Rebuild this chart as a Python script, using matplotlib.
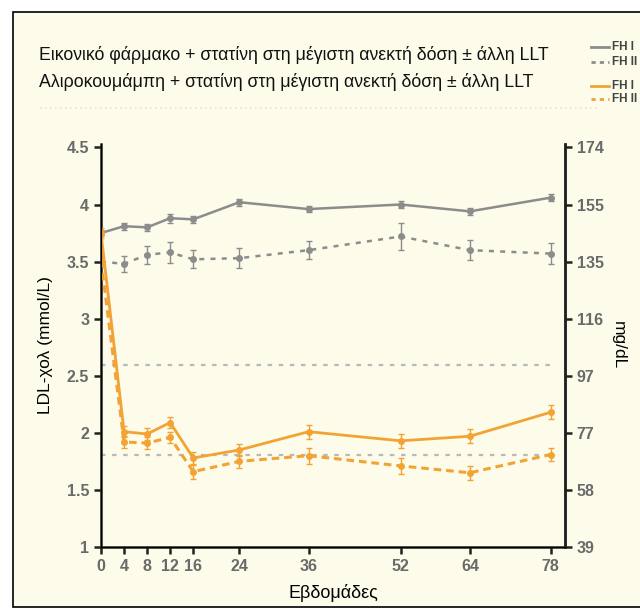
import numpy as np
import matplotlib.pyplot as plt
from matplotlib.patches import Rectangle
from matplotlib.lines import Line2D

plt.rcParams['font.family'] = ['Liberation Sans', 'DejaVu Sans']

# Data (LDL-C, mmol/L)
weeks = [0, 4, 8, 12, 16, 24, 36, 52, 64, 78]
placebo_fh1 = [3.75, 3.81, 3.80, 3.88, 3.87, 4.02, 3.96, 4.00, 3.94, 4.06]
placebo_fh1_err = [0.03, 0.03, 0.03, 0.04, 0.03, 0.03, 0.03, 0.03, 0.03, 0.03]
placebo_fh2 = [3.50, 3.48, 3.56, 3.58, 3.52, 3.53, 3.60, 3.72, 3.60, 3.57]
placebo_fh2_err = [0.05, 0.07, 0.08, 0.09, 0.08, 0.09, 0.08, 0.12, 0.09, 0.09]
aliro_fh1 = [3.75, 2.01, 1.99, 2.09, 1.78, 1.85, 2.01, 1.93, 1.97, 2.18]
aliro_fh1_err = [0.04, 0.05, 0.05, 0.05, 0.05, 0.05, 0.06, 0.06, 0.06, 0.06]
aliro_fh2 = [3.51, 1.92, 1.91, 1.96, 1.66, 1.75, 1.80, 1.71, 1.65, 1.81]
aliro_fh2_err = [0.05, 0.05, 0.05, 0.05, 0.06, 0.06, 0.07, 0.07, 0.06, 0.06]
ref_lines = [2.59, 1.81]

yticks = [1, 1.5, 2, 2.5, 3, 3.5, 4, 4.5]
ytick_labels = ['1', '1.5', '2', '2.5', '3', '3.5', '4', '4.5']
mgdl_labels = ['39', '58', '77', '97', '116', '135', '155', '174']

title1 = 'Εικονικό φάρμακο + στατίνη στη μέγιστη ανεκτή δόση ± άλλη LLT'
title2 = 'Αλιροκουμάμπη + στατίνη στη μέγιστη ανεκτή δόση ± άλλη LLT'

gray = '#8c8c8c'
orange = '#f3a333'
cream = '#fdfbea'
tick_col = '#6a6a6a'

fig = plt.figure(figsize=(6.4, 6.09), dpi=100, facecolor='white')
fig.patches.append(Rectangle((13 / 640, 2 / 609), 1.0, 1 - 14 / 609,
                             transform=fig.transFigure, facecolor=cream,
                             edgecolor='black', linewidth=1.2, zorder=-10))

ax = fig.add_axes([101 / 640, 1 - 547 / 609, 464 / 640, 403 / 609])
ax.set_facecolor('none')

for y in ref_lines:
    ax.plot([0, 78], [y, y], color='#b8b8b8', lw=1.6, ls=(0, (2, 3)), zorder=1)

def series(vals, err, color, ls, lw):
    ax.errorbar(weeks, vals, yerr=err, color=color, ls=ls, lw=lw,
                marker='o', ms=4, elinewidth=1, capsize=2, capthick=1, zorder=3)

series(placebo_fh1, placebo_fh1_err, gray, '-', 1.8)
series(placebo_fh2, placebo_fh2_err, gray, (0, (2, 2.5)), 1.8)
series(aliro_fh1, aliro_fh1_err, orange, '-', 2.0)
series(aliro_fh2, aliro_fh2_err, orange, (0, (2.5, 1.6)), 2.2)

ax.set_xlim(0, 80.5)
ax.set_ylim(1, 4.53)
ax.set_xticks(weeks)
ax.set_yticks(yticks)
ax.set_yticklabels(ytick_labels)
ax.spines['top'].set_visible(False)
for s in ['left', 'bottom', 'right']:
    ax.spines[s].set_linewidth(1.8)
    ax.spines[s].set_color('#222222')
ax.tick_params(axis='both', colors='#222222', labelcolor=tick_col,
               labelsize=11.5, width=1.8, length=5)
for lab in ax.get_xticklabels() + ax.get_yticklabels():
    lab.set_fontweight('bold')

ax2 = ax.twinx()
ax2.set_ylim(ax.get_ylim())
ax2.set_yticks(yticks)
ax2.set_yticklabels(mgdl_labels)
ax2.spines['top'].set_visible(False)
ax2.spines['right'].set_linewidth(1.8)
ax2.spines['right'].set_color('#222222')
ax2.tick_params(axis='y', colors='#222222', labelcolor=tick_col,
                labelsize=11.5, width=1.8, length=5)
for lab in ax2.get_yticklabels():
    lab.set_fontweight('bold')

ax.set_xlabel('Εβδομάδες', fontsize=13, labelpad=7)
ax.set_ylabel('LDL-χολ (mmol/L)', fontsize=12.5, labelpad=10)
ax2.set_ylabel('mg/dL', fontsize=12.5, rotation=270, labelpad=16)

fig.text(39 / 640, 1 - 55 / 609, title1, fontsize=12.8, va='center', color='#111111')
fig.text(39 / 640, 1 - 82 / 609, title2, fontsize=12.8, va='center', color='#111111')

# legend at the top right corner
leg = [(47, gray, '-', 'FH I'), (62, gray, (0, (1.5, 1.5)), 'FH II'),
       (86, orange, '-', 'FH I'), (99, orange, (0, (1.5, 1.5)), 'FH II')]
for ypx, col, ls, txt in leg:
    yf = 1 - ypx / 609
    fig.add_artist(Line2D([591 / 640, 609 / 640], [yf, yf], color=col, ls=ls,
                          lw=2, transform=fig.transFigure))
    fig.text(612 / 640, yf, txt, fontsize=8.5, fontweight='bold',
             color='#444444', va='center')

# faint dotted row under the titles
fig.add_artist(Line2D([40 / 640, 600 / 640], [1 - 108 / 609] * 2, color='#e6e4d6',
                      lw=1.2, ls=(0, (1, 2)), transform=fig.transFigure))

fig.savefig('out.png', dpi=100, facecolor='white')
